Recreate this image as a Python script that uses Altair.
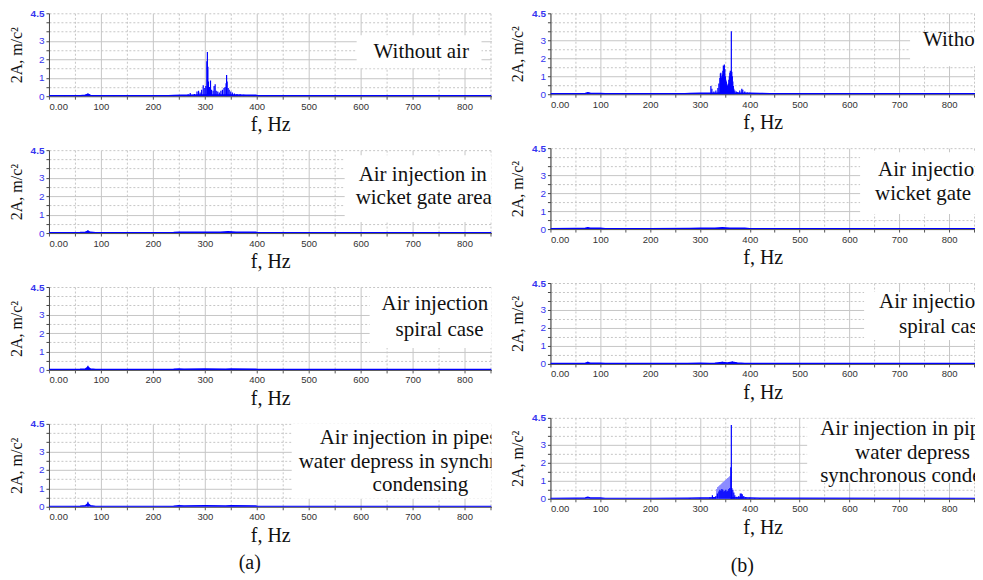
import altair as alt
import pandas as pd

BLUE = "#0000ff"
PALE = "#8a8aff"
SERIF = "Liberation Serif"
SANS = "Liberation Sans"

# ---------------- data ----------------
# (a) Without air
A1_SPK_F = [30, 62, 70, 75, 78, 85, 125, 240, 250, 260, 268, 272, 280, 285, 288, 291, 294, 297, 300,
            302, 304, 305, 306, 307, 309, 311, 313, 316, 318, 320, 322, 325, 328, 331, 334, 337, 339,
            341, 342, 343, 345, 347, 350, 353, 357, 362, 368, 375, 385, 395, 420]
A1_SPK_A = [0.03, 0.05, 0.08, 0.15, 0.1, 0.04, 0.04, 0.05, 0.06, 0.07, 0.1, 0.18, 0.12, 0.25, 0.3, 0.2,
            0.35, 0.6, 0.45, 0.55, 1.9, 2.4, 1.6, 0.8, 0.5, 0.85, 0.35, 0.3, 0.55, 0.65, 0.3, 0.25, 0.2,
            0.3, 0.35, 0.45, 0.5, 0.7, 1.15, 0.8, 0.45, 0.35, 0.25, 0.2, 0.15, 0.12, 0.1, 0.08, 0.06,
            0.05, 0.03]
A1_FL_F = [0, 20, 40, 60, 70, 75, 80, 90, 110, 125, 140, 200, 230, 240, 255, 270, 285, 300, 330, 360,
           380, 398, 402, 420, 425, 500, 600, 700, 852]
A1_FL_A = [0.02, 0.02, 0.03, 0.03, 0.05, 0.1, 0.04, 0.03, 0.02, 0.03, 0.02, 0.02, 0.02, 0.04, 0.05,
           0.05, 0.06, 0.07, 0.07, 0.07, 0.05, 0.05, 0.03, 0.03, 0.03, 0.02, 0.02, 0.02, 0.02]

# (a) Air injection in wicket gate area
A2_SPK_F = [75, 345]
A2_SPK_A = [0.15, 0.08]
A2_FL_F = [0, 30, 60, 70, 75, 80, 90, 200, 240, 250, 270, 300, 330, 345, 360, 398, 402, 852]
A2_FL_A = [0.02, 0.02, 0.03, 0.05, 0.1, 0.04, 0.02, 0.02, 0.03, 0.04, 0.04, 0.04, 0.04, 0.07, 0.04,
           0.04, 0.02, 0.02]

# (a) Air injection in spiral case
A3_SPK_F = [75]
A3_SPK_A = [0.22]
A3_FL_F = [0, 30, 60, 70, 75, 80, 90, 200, 240, 250, 260, 300, 340, 350, 398, 402, 852]
A3_FL_A = [0.02, 0.02, 0.03, 0.05, 0.15, 0.05, 0.02, 0.02, 0.03, 0.05, 0.04, 0.05, 0.04, 0.05, 0.04,
           0.02, 0.02]

# (a) Air injection in pipes
A4_SPK_F = [75]
A4_SPK_A = [0.27]
A4_FL_F = [0, 30, 60, 70, 75, 80, 90, 200, 240, 250, 260, 300, 340, 350, 398, 402, 852]
A4_FL_A = [0.02, 0.02, 0.03, 0.05, 0.17, 0.05, 0.02, 0.02, 0.03, 0.05, 0.04, 0.05, 0.04, 0.05, 0.04,
           0.02, 0.02]

# (b) Without air
B1_SPK_F = [75, 250, 322, 324, 328, 332, 336, 338, 340, 341, 342, 343, 344, 345, 346, 347, 348, 349,
            350, 351, 352, 353, 354, 355, 356, 357, 358, 359, 360, 361, 362, 363, 364, 365, 366, 367,
            368, 370, 373, 376, 380, 384, 386, 390, 395, 400, 410, 420]
B1_SPK_A = [0.1, 0.06, 0.45, 0.3, 0.15, 0.2, 0.35, 0.6, 0.9, 1.15, 1.2, 0.9, 1.0, 1.1, 1.3, 1.6, 1.55,
            1.65, 1.4, 1.0, 0.8, 0.7, 0.55, 0.45, 0.5, 0.6, 0.8, 1.0, 1.2, 1.3, 1.1, 3.5, 1.25, 1.0,
            0.7, 0.45, 0.3, 0.2, 0.15, 0.12, 0.2, 0.3, 0.25, 0.15, 0.1, 0.08, 0.06, 0.05]
B1_FL_F = [0, 50, 70, 75, 80, 100, 110, 200, 250, 270, 280, 300, 320, 400, 420, 440, 460, 852]
B1_FL_A = [0.02, 0.03, 0.04, 0.08, 0.05, 0.04, 0.03, 0.02, 0.03, 0.02, 0.04, 0.05, 0.06, 0.06, 0.04,
           0.03, 0.03, 0.02]

# (b) Air injection in wicket gate area
B2_SPK_F = [75]
B2_SPK_A = [0.1]
B2_FL_F = [0, 50, 70, 75, 80, 100, 110, 200, 280, 300, 330, 345, 360, 390, 400, 852]
B2_FL_A = [0.02, 0.03, 0.04, 0.07, 0.04, 0.04, 0.02, 0.02, 0.03, 0.04, 0.04, 0.07, 0.04, 0.04, 0.02,
           0.02]

# (b) Air injection in spiral case
B3_SPK_F = [75, 345, 365]
B3_SPK_A = [0.12, 0.12, 0.14]
B3_FL_F = [0, 50, 70, 75, 80, 100, 110, 200, 275, 300, 320, 330, 345, 355, 365, 375, 390, 400, 852]
B3_FL_A = [0.02, 0.03, 0.04, 0.08, 0.04, 0.04, 0.02, 0.02, 0.03, 0.04, 0.03, 0.04, 0.08, 0.05, 0.09,
           0.05, 0.03, 0.02, 0.02]

# (b) Air injection in pipes
B4_PALE_F = [334, 336, 338, 340, 342, 344, 346, 348, 350, 352, 354, 356, 358, 360]
B4_PALE_A = [0.55, 0.65, 0.7, 0.75, 0.8, 0.85, 0.9, 0.95, 1.0, 1.05, 1.1, 1.15, 1.2, 1.25]
B4_SPK_F = [280, 300, 320, 325, 328, 332, 335, 338, 340, 342, 344, 346, 348, 350, 352, 354, 356, 358,
            360, 362, 363, 364, 366, 368, 370, 374, 378, 381, 383, 385, 388, 392, 400, 410, 420]
B4_SPK_A = [0.05, 0.05, 0.08, 0.2, 0.1, 0.15, 0.3, 0.4, 0.5, 0.45, 0.55, 0.5, 0.4, 0.45, 0.5, 0.4,
            0.45, 0.55, 0.6, 1.75, 4.1, 0.6, 0.5, 0.35, 0.2, 0.12, 0.15, 0.3, 0.3, 0.25, 0.15, 0.1,
            0.06, 0.05, 0.04]
B4_FL_F = [0, 50, 70, 75, 80, 100, 110, 200, 275, 300, 320, 330, 400, 420, 440, 852]
B4_FL_A = [0.02, 0.03, 0.04, 0.08, 0.05, 0.04, 0.02, 0.02, 0.03, 0.04, 0.05, 0.06, 0.05, 0.03, 0.03,
           0.02]

LBL_WITHOUT = ["Without air"]
LBL_WICKET = ["Air injection in", "wicket gate area"]
LBL_SPIRAL = ["Air injection in", "spiral case"]
LBL_PIPES_A = ["Air injection in pipes", "water depress in synchr", "condensing"]
LBL_PIPES_B = ["Air injection in pipes", "water depress in", "synchronous condensing"]

X_TICKS = list(range(0, 851, 50))
Y_TICKS = [0, 0.5, 1, 1.5, 2, 2.5, 3, 3.5, 4, 4.5]
XMAX = 852

# ---------------- layout / style (pixels inside each panel) ----------------
LEFT_W, LEFT_H = 443, 83
RIGHT_W, RIGHT_H = 425, 81

PANELS_A = [
    dict(spk=(A1_SPK_F, A1_SPK_A), fl=(A1_FL_F, A1_FL_A), pale=None,
         lines=LBL_WITHOUT, pos=[(325, 39)], box=(308, 433, 22, 55)),
    dict(spk=(A2_SPK_F, A2_SPK_A), fl=(A2_FL_F, A2_FL_A), pale=None,
         lines=LBL_WICKET, pos=[(310, 25), (307, 48)], box=(296, 445, 5, 72)),
    dict(spk=(A3_SPK_F, A3_SPK_A), fl=(A3_FL_F, A3_FL_A), pale=None,
         lines=LBL_SPIRAL, pos=[(333, 17), (347, 43)], box=(321, 445, 1, 61)),
    dict(spk=(A4_SPK_F, A4_SPK_A), fl=(A4_FL_F, A4_FL_A), pale=None,
         lines=LBL_PIPES_A, pos=[(271, 14), (250, 38), (324, 61)], box=(243, 445, 0, 75)),
]
PANELS_B = [
    dict(spk=(B1_SPK_F, B1_SPK_A), fl=(B1_FL_F, B1_FL_A), pale=None,
         lines=LBL_WITHOUT, pos=[(373, 27)], box=(360, 430, 20, 53)),
    dict(spk=(B2_SPK_F, B2_SPK_A), fl=(B2_FL_F, B2_FL_A), pale=None,
         lines=LBL_WICKET, pos=[(328, 22), (325, 46)], box=(310, 430, 4, 66)),
    dict(spk=(B3_SPK_F, B3_SPK_A), fl=(B3_FL_F, B3_FL_A), pale=None,
         lines=LBL_SPIRAL, pos=[(329, 19), (349, 44)], box=(314, 430, 9, 57)),
    dict(spk=(B4_SPK_F, B4_SPK_A), fl=(B4_FL_F, B4_FL_A), pale=(B4_PALE_F, B4_PALE_A),
         lines=LBL_PIPES_B, pos=[(270, 11), (305, 35), (270, 58)], box=(257, 430, 1, 65)),
]

GRID = "#c6c6c6"

xaxis = alt.Axis(
    values=X_TICKS,
    labelExpr="datum.value == 0 ? '0.00' : (datum.value % 100 == 0 ? datum.value + '' : '')",
    labelAlign={"condition": {"test": "datum.value == 0", "value": "left"}, "value": "center"},
    labelFont=SANS, labelFontSize=9.5, labelColor="#333333", labelPadding=2,
    tickSize=3, tickColor="#555555", domainColor="#555555",
    grid=True, gridColor=GRID, gridWidth=1,
    gridDash={"condition": {"test": "datum.value % 100 != 0", "value": [2, 2]}, "value": []},
    title="f, Hz", titleFont=SERIF, titleFontSize=20, titleFontWeight="normal",
    titleColor="#111111", titlePadding=4,
)
yaxis = alt.Axis(
    values=Y_TICKS,
    labelExpr="datum.value == 4.5 ? '4.5' : ((datum.value % 1 == 0 && datum.value < 4) ? datum.value + '' : '')",
    labelFont=SANS, labelFontSize=10, labelColor="#3535f0", labelPadding=2,
    labelFontWeight={"condition": {"test": "datum.value == 4.5", "value": "bold"}, "value": "normal"},
    tickSize=3, tickColor="#444444", domainColor="#444444",
    grid=True, gridColor=GRID, gridWidth=1,
    gridDash={"condition": {"test": "datum.value % 1 != 0 || datum.value == 4", "value": [2, 2]},
              "value": []},
    title="2A, m/c²", titleFont=SERIF, titleFontSize=16, titleFontWeight="normal",
    titleColor="#111111", titlePadding=6,
)


def make_panel(p, width, height):
    xs = alt.Scale(domain=[0, XMAX], nice=False, zero=False)
    ys = alt.Scale(domain=[0, 4.5], nice=False)
    X = alt.X("f:Q", scale=xs, axis=xaxis)
    Y = alt.Y("a:Q", scale=ys, axis=yaxis)

    floor = pd.DataFrame({"f": p["fl"][0], "a": p["fl"][1]})
    spikes = pd.DataFrame({"f": p["spk"][0], "a": p["spk"][1]})

    layers = [
        alt.Chart(floor).mark_area(color=BLUE, clip=True).encode(x=X, y=Y, y2=alt.datum(0)),
        alt.Chart(floor).mark_line(color=BLUE, strokeWidth=1.5, clip=True).encode(x=X, y=Y),
    ]
    if p["pale"] is not None:
        pale = pd.DataFrame({"f": p["pale"][0], "a": p["pale"][1]})
        layers.append(alt.Chart(pale).mark_rule(color=PALE, strokeWidth=1.6, clip=True)
                      .encode(x=X, y=Y, y2=alt.datum(0)))
    layers.append(alt.Chart(spikes).mark_rule(color=BLUE, strokeWidth=1.2, clip=True)
                  .encode(x=X, y=Y, y2=alt.datum(0)))

    bx1, bx2, by1, by2 = p["box"]
    layers.append(alt.Chart(pd.DataFrame({"k": [0]})).mark_rect(color="white", clip=True)
                  .encode(x=alt.value(bx1), x2=alt.value(bx2), y=alt.value(by1), y2=alt.value(by2)))
    for line, (px, py) in zip(p["lines"], p["pos"]):
        layers.append(alt.Chart(pd.DataFrame({"t": [line]}))
                      .mark_text(font=SERIF, fontSize=21, color="#111111", align="left",
                                 baseline="middle", clip=True)
                      .encode(x=alt.value(px), y=alt.value(py), text="t:N"))
    return alt.layer(*layers).properties(width=width, height=height)


def column(panels, w, h, label, offset):
    return alt.vconcat(*[make_panel(p, w, h) for p in panels], spacing=10).properties(
        title=alt.TitleParams(label, orient="bottom", anchor="middle", font=SERIF, fontSize=20,
                              fontWeight="normal", color="#111111", offset=offset))


col_a = column(PANELS_A, LEFT_W, LEFT_H, "(a)", 8)
col_b = column(PANELS_B, RIGHT_W, RIGHT_H, "(b)", 19)

chart = alt.hconcat(col_a, col_b, spacing=18).properties(
    padding={"left": 0, "top": 0, "right": 0, "bottom": 0}, background="white"
).configure_view(stroke=None)

chart.save("out.html", embed_options={"renderer": "svg", "actions": False})
